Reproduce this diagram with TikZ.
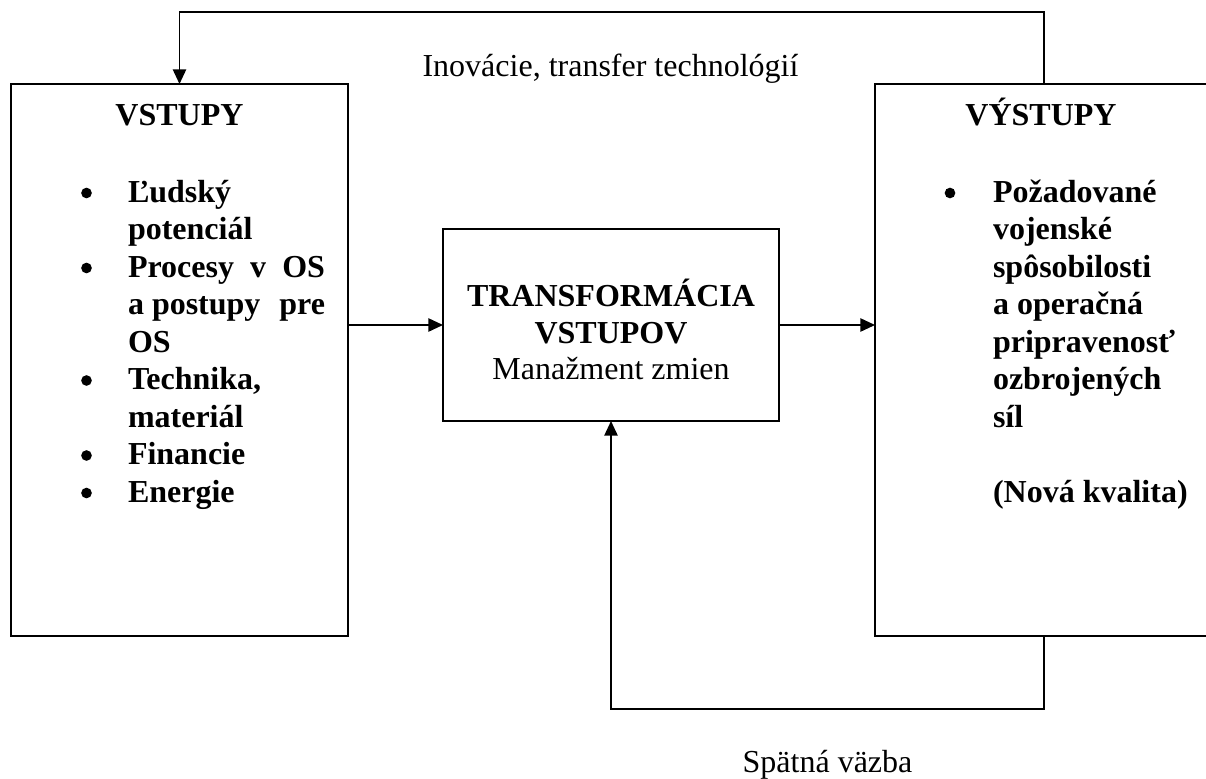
\documentclass[tikz,border=0pt]{standalone}
\usepackage{fontspec}
\setmainfont{Liberation Serif}
\usetikzlibrary{arrows.meta}
\begin{document}
\begin{tikzpicture}[x=0.75pt,y=-0.75pt,
  every node/.style={inner sep=0pt, outer sep=0pt, font=\fontsize{24}{28}\selectfont},
  boxshape/.style={draw, line width=1.2pt},
  conn/.style={draw, line width=1.2pt},
  arr/.style={-{Triangle[length=11pt,width=10pt]}},
  bold/.style={font=\fontsize{24}{28}\selectfont\bfseries},
  ltext/.style={bold, anchor=base west},
  plain/.style={anchor=base},
  dot/.style={circle, fill, minimum size=8pt}]
\useasboundingbox (0,0) rectangle (1206,778);
\clip (0,0) rectangle (1206,778);
% boxes
\node[boxshape, minimum width=252.75pt, minimum height=414pt] (L) at (179.5,360) {};
\node[boxshape, minimum width=252pt, minimum height=144pt] (C) at (611,325) {};
\node[boxshape, minimum width=253.5pt, minimum height=414pt] (R) at (1044,360) {};
% left box text
\node[bold, anchor=base] (Lt) at (179.5,125) {VSTUPY};
\node[ltext] (l1) at (128,202) {Ľudský};
\node[ltext] (l2) at (128,239.5) {potenciál};
\node[ltext] (l3) at (128,277) {\makebox[147.75pt][s]{Procesy v OS}};
\node[ltext] (l4) at (128,314.5) {\makebox[147.75pt][l]{a postupy\hfill pre}};
\node[ltext] (l5) at (128,352) {OS};
\node[ltext] (l6) at (128,389.5) {Technika,};
\node[ltext] (l7) at (128,427) {materiál};
\node[ltext] (l8) at (128,464.5) {Financie};
\node[ltext] (l9) at (128,502) {Energie};
\node[dot] (bl1) at (86.5,193) {};
\node[dot] (bl2) at (86.5,268) {};
\node[dot] (bl3) at (86.5,380.5) {};
\node[dot] (bl4) at (86.5,455.5) {};
\node[dot] (bl5) at (86.5,493) {};
% center box text
\node[bold, anchor=base] (c1) at (611,306) {TRANSFORMÁCIA};
\node[bold, anchor=base] (c2) at (611,343) {VSTUPOV};
\node[plain] (c3) at (611,379) {Manažment zmien};
% right box text
\node[bold, anchor=base] (Rt) at (1041,125) {VÝSTUPY};
\node[ltext] (r1) at (993,202) {Požadované};
\node[ltext] (r2) at (993,239.5) {vojenské};
\node[ltext] (r3) at (993,277) {spôsobilosti};
\node[ltext] (r4) at (993,314.5) {a operačná};
\node[ltext] (r5) at (993,352) {pripravenosť};
\node[ltext] (r6) at (993,389.5) {ozbrojených};
\node[ltext] (r7) at (993,427) {síl};
\node[ltext] (r8) at (993,502) {(Nová kvalita)};
\node[dot] (br1) at (950,193) {};
% labels
\node[plain] (inov) at (610.5,76) {Inovácie, transfer technológií};
\node[plain] (spat) at (827.5,772) {Spätná väzba};
% connectors
\coordinate (top) at (611,12);
\coordinate (bot) at (827,709);
\draw[conn, arr] (L.east |- C.west) -- (C.west);
\draw[conn, arr] (C.east) -- (R.west |- C.east);
\draw[conn, arr] (R.north) |- (top) -| (L.north);
\draw[conn, arr] (R.south) |- (bot) -| (C.south);
\end{tikzpicture}
\end{document}
